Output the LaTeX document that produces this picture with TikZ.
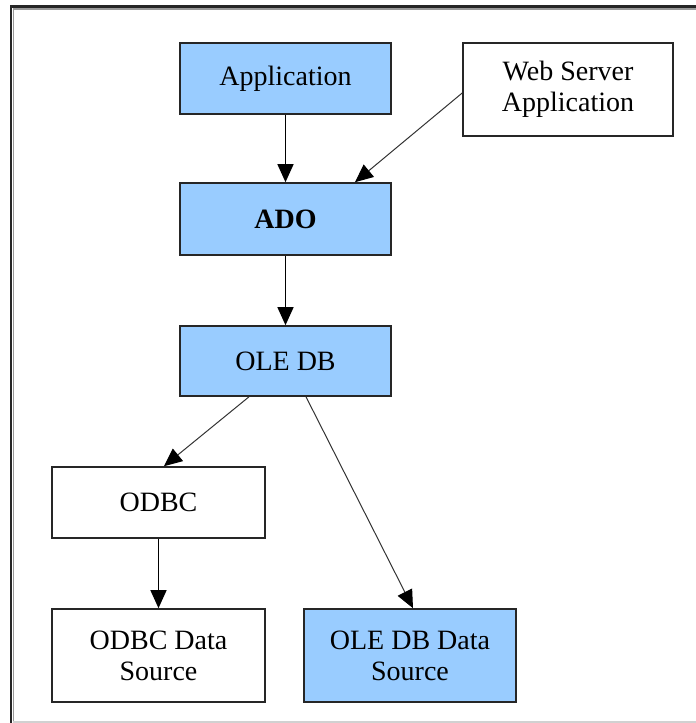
\documentclass[tikz,border=0pt]{standalone}
\usepackage{fontspec}
\setmainfont{Liberation Serif}
\usepackage{xcolor}
\usepackage{tikz}
\usetikzlibrary{arrows.meta}

\definecolor{oleblue}{RGB}{153,204,255}

\tikzset{
  layerbox/.style={draw=black!85, line width=1.6pt, fill=oleblue, align=center,
    minimum width=211pt, minimum height=71pt, inner sep=0pt,
    font=\fontsize{28}{31}\selectfont},
  plainbox/.style={layerbox, fill=white},
  flow/.style={-{Triangle[length=18pt,width=16pt,color=black]}, line width=1.3pt, black},
  thinflow/.style={flow, line width=1pt, black!80}
}

\begin{document}
\begin{tikzpicture}[x=1pt,y=-1pt]
\useasboundingbox (0,0) rectangle (696,723);

% sunken frame
\draw[line width=2.5pt,black!85] (11,723) -- (11,6.25) -- (696,6.25);
\draw[line width=1.5pt,black!40] (13.5,723) -- (13.5,8.75) -- (696,8.75);
\draw[line width=1.2pt,black!18] (13,722) -- (696,722);

% nodes
\node[layerbox] (app) at (285.5,78.5) {Application};
\node[plainbox, minimum width=210pt, minimum height=93pt] (web) at (568,89.5) {Web Server\\Application};
\node[layerbox, minimum height=72pt] (ado) at (285.5,219) {\textbf{ADO}};
\node[layerbox, minimum height=70pt] (oledb) at (285.5,361) {OLE DB};
\node[plainbox, minimum width=213pt] (odbc) at (158.5,502.5) {ODBC};
\node[plainbox, minimum width=213pt, minimum height=93pt] (odbcsrc) at (158.5,655.5) {ODBC Data\\Source};
\node[layerbox, minimum width=212pt, minimum height=93pt] (olesrc) at (410,655.5) {OLE DB Data\\Source};

% connectors
\draw[flow] (app) -- (ado);
\draw[thinflow] (web.west) ++(0,3.5) -- ([xshift=69.5pt]ado.north);
\draw[flow] (ado) -- (oledb);
\draw[thinflow] ([xshift=-36.5pt]oledb.south) -- ([xshift=5.5pt]odbc.north);
\draw[thinflow] ([xshift=20.5pt]oledb.south) -- ([xshift=3pt]olesrc.north);
\draw[flow] (odbc) -- (odbcsrc);
\end{tikzpicture}
\end{document}
